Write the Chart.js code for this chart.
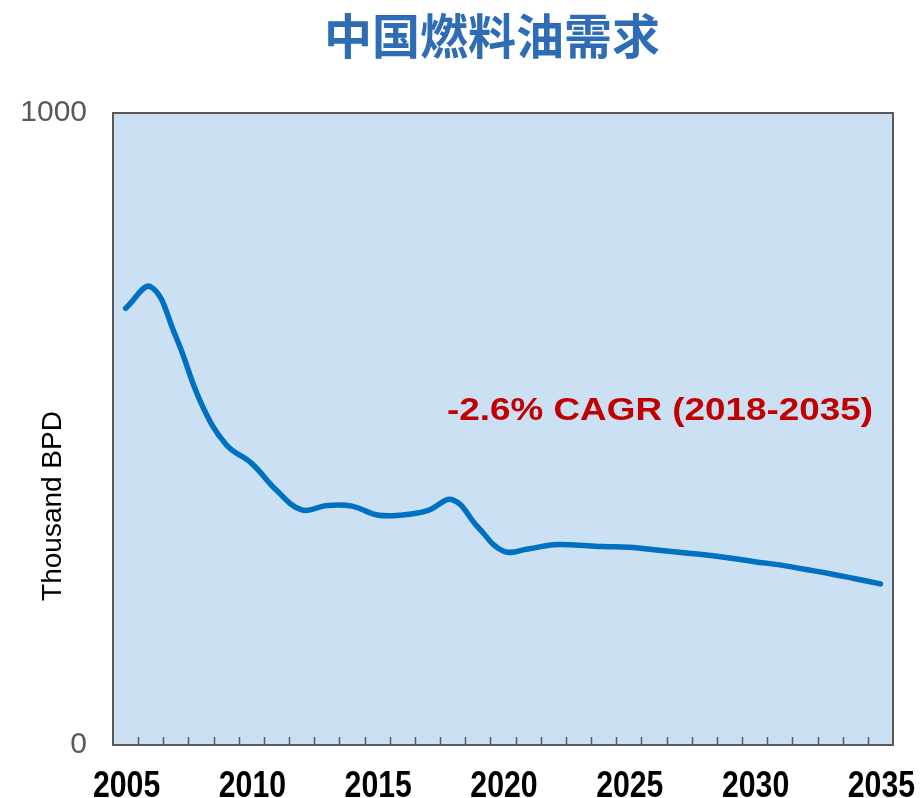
<!DOCTYPE html>
<html><head><meta charset="utf-8">
<script src="https://cdn.jsdelivr.net/npm/chart.js@4/dist/chart.umd.min.js"></script>
<style>html,body{margin:0;padding:0;background:#fff;}#wrap{width:923px;height:798px;position:relative}</style>
</head><body><div id="wrap"><canvas id="c" width="923" height="798"></canvas></div>
<script>
const years = ['2005','2006','2007','2008','2009','2010','2011','2012','2013','2014','2015','2016','2017','2018','2019','2020','2021','2022','2023','2024','2025','2026','2027','2028','2029','2030','2031','2032','2033','2034','2035'];
const demand = [691,725,646,541,475,446,403,372,379,378,364,364,371,388,345,307,310,317,316,314,313,309,305,301,296,290,285,278,271,263,255];
const xLabelYears = ['2005','2010','2015','2020','2025','2030','2035'];
const yTickValues = [0, 1000];
const chartTitle = '中国燃料油需求';
const yAxisTitle = 'Thousand BPD';
const annotationText = '-2.6% CAGR (2018-2035)';

const decor = {
  id: 'decor',
  beforeDatasetsDraw(chart) {
    const {ctx, chartArea: a} = chart;
    ctx.save();
    ctx.fillStyle = '#CCE0F4';
    ctx.fillRect(a.left, a.top, a.right - a.left, a.bottom - a.top);
    const xs = chart.scales.x;
    const step = xs.getPixelForValue(1) - xs.getPixelForValue(0);
    ctx.strokeStyle = '#595959';
    ctx.lineWidth = 1.5;
    for (let i = 1; i < years.length; i++) {
      const px = Math.round(xs.getPixelForValue(i) - step / 2) + 0.5;
      ctx.beginPath(); ctx.moveTo(px, a.bottom); ctx.lineTo(px, a.bottom - 8); ctx.stroke();
    }
    ctx.lineWidth = 2;
    ctx.strokeRect(a.left, a.top, a.right - a.left, a.bottom - a.top);
    ctx.restore();
  },
  afterDraw(chart) {
    const {ctx, chartArea: a} = chart;
    ctx.save();
    // title
    ctx.fillStyle = '#2E6DB5';
    ctx.font = 'bold 48px "Noto Sans CJK SC", sans-serif';
    ctx.textAlign = 'center'; ctx.textBaseline = 'middle';
    ctx.fillText(chartTitle, 492, 36);
    // x labels (condensed bold)
    const xs = chart.scales.x;
    ctx.font = 'bold 36px "Liberation Sans", Arial, sans-serif';
    ctx.fillStyle = '#000';
    ctx.textBaseline = 'alphabetic';
    years.forEach((yr, i) => {
      if (!xLabelYears.includes(yr)) return;
      ctx.save();
      ctx.translate(xs.getPixelForValue(i) + 1, 797);
      ctx.scale(0.84, 1);
      ctx.textAlign = 'center';
      ctx.fillText(yr, 0, 0);
      ctx.restore();
    });
    // y title
    ctx.save();
    ctx.translate(53, 506); ctx.rotate(-Math.PI / 2);
    ctx.fillStyle = '#000';
    ctx.textAlign = 'center'; ctx.textBaseline = 'middle';
    ctx.font = '28px "Liberation Sans", Arial, sans-serif';
    ctx.fillText(yAxisTitle, 0, 0);
    ctx.restore();
    // annotation
    ctx.save();
    ctx.font = 'bold 31px "Liberation Sans", Arial, sans-serif';
    const w = ctx.measureText(annotationText).width;
    ctx.translate(a.left + 334, 411);
    ctx.scale(426 / w, 1);
    ctx.fillStyle = '#C00000';
    ctx.textAlign = 'left'; ctx.textBaseline = 'middle';
    ctx.fillText(annotationText, 0, 0);
    ctx.restore();
    ctx.restore();
  }
};

new Chart(document.getElementById('c'), {
  type: 'line',
  data: {
    labels: years,
    datasets: [{
      data: demand,
      borderColor: '#0070C0',
      borderWidth: 5.5,
      pointRadius: 0,
      tension: 0.4,
      fill: false,
      borderCapStyle: 'round',
      borderJoinStyle: 'round'
    }]
  },
  options: {
    responsive: false,
    animation: false,
    devicePixelRatio: 1,
    layout: {padding: {top: 113, right: 30, left: 0, bottom: 0}},
    plugins: {legend: {display: false}, tooltip: {enabled: false}, title: {display: false}},
    scales: {
      x: {
        offset: true,
        grid: {display: false, drawTicks: false, offset: true},
        border: {display: false},
        afterFit(s) { s.height = 53; },
        ticks: {
          autoSkip: false, maxRotation: 0, minRotation: 0, padding: 0,
          font: {size: 1},
          callback: () => ''
        }
      },
      y: {
        min: 0, max: 1000,
        grid: {display: false, drawTicks: false},
        border: {display: false},
        afterFit(s) { s.width = 113; },
        afterBuildTicks(s) { s.ticks = yTickValues.map(v => ({value: v})); },
        ticks: {
          padding: 26, color: '#595959',
          font: {family: "'Liberation Sans',Arial,sans-serif", size: 30},
          callback: v => String(v)
        }
      }
    }
  },
  plugins: [decor]
});
</script>
</body></html>
